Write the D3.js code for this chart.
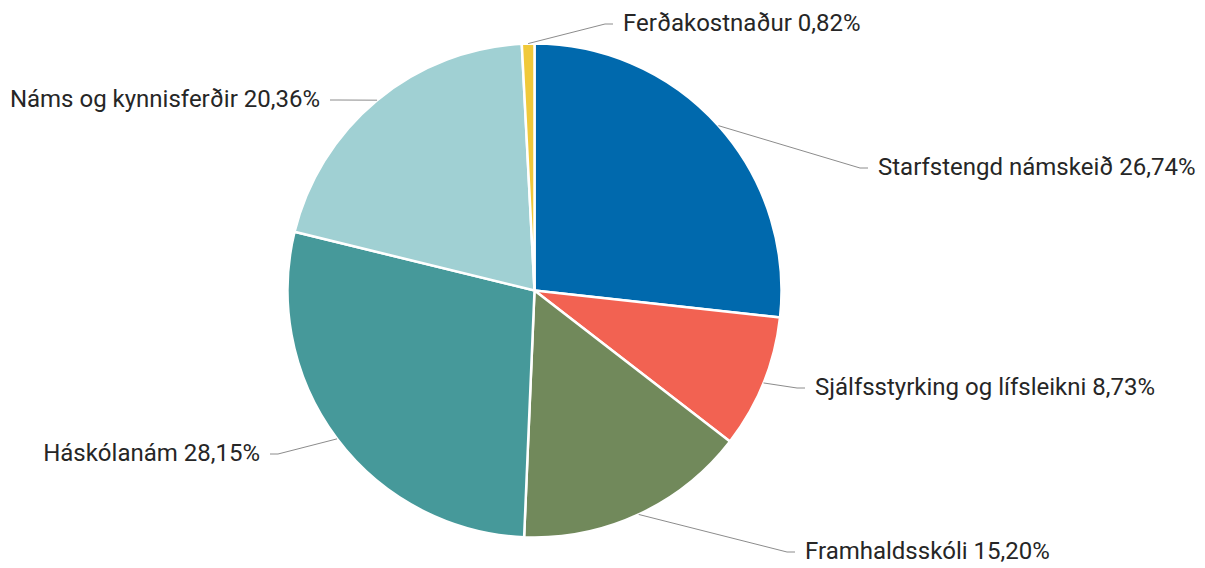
<!doctype html>
<html>
<head>
<meta charset="utf-8">
<style>
    body { margin: 0; background: #fff; }
    text.label { font-family: Roboto, sans-serif; font-size: 24px; fill: #262626; }
    path.slice { stroke: #fff; stroke-width: 2.5; }
    polyline.leader { fill: none; stroke: #8c8c8c; stroke-width: 1; }
</style>
<script src="https://d3js.org/d3.v7.min.js"></script>
</head>
<body>
<svg width="1205" height="568"></svg>
<script>
    const categories = ['Starfstengd námskeið', 'Sjálfsstyrking og lífsleikni', 'Framhaldsskóli',
        'Háskólanám', 'Náms og kynnisferðir', 'Ferðakostnaður'];
    const values = [26.74, 8.73, 15.20, 28.15, 20.36, 0.82];
    const colors = ['#0069ad', '#f26252', '#71895b', '#46999a', '#a0d0d3', '#f0c93a'];

    // where each leader line bends (layout only)
    const bends = [[860, 168, 1], [797, 388, 1], [787, 552, 1], [278, 454, -1], [338, 100, -1], [605, 24, 1]];

    const svg = d3.select('svg');
    const cx = 534.5, cy = 290.5, r = 247;

    const data = categories.map((c, i) => ({ name: c, value: values[i], color: colors[i] }));

    const pie = d3.pie().sort(null).value(d => d.value);
    const arc = d3.arc().innerRadius(0).outerRadius(r);
    const arcs = pie(data);

    const g = svg.append('g').attr('transform', `translate(${cx}, ${cy})`);

    g.selectAll('path.slice')
        .data(arcs)
        .enter()
        .append('path')
        .attr('class', 'slice')
        .attr('d', arc)
        .attr('fill', d => d.data.color);

    const fmt = v => v.toFixed(2).replace('.', ',') + '%';

    arcs.forEach((a, i) => {
        const mid = (a.startAngle + a.endAngle) / 2;
        const sx = cx + r * Math.sin(mid);
        const sy = cy - r * Math.cos(mid);
        const [bx, by, dir] = bends[i];
        const ex = bx + dir * 8;

        svg.append('polyline')
            .attr('class', 'leader')
            .attr('points', `${sx},${sy} ${bx},${by} ${ex},${by}`);

        svg.append('text')
            .attr('class', 'label')
            .attr('x', ex + dir * 10)
            .attr('y', by)
            .attr('dy', '0.3em')
            .attr('text-anchor', dir > 0 ? 'start' : 'end')
            .text(`${a.data.name} ${fmt(a.data.value)}`);
    });
</script>
</body>
</html>
